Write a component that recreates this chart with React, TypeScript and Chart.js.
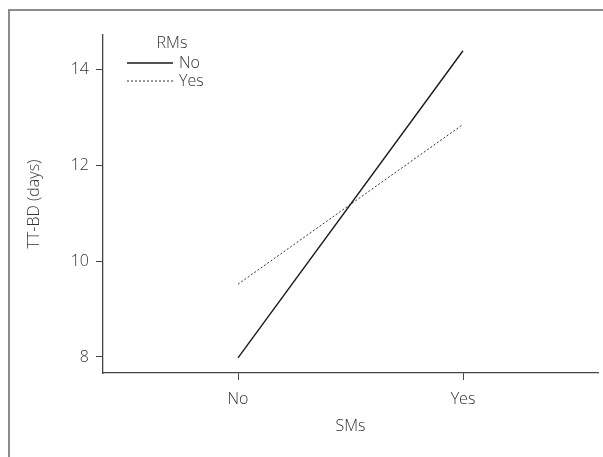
import React, { useEffect, useRef } from "react";
import { Chart, registerables } from "chart.js";

Chart.register(...registerables);

const smsCategories = ["No", "Yes"];
const rmsNoValues = [7.98, 14.4];
const rmsYesValues = [9.52, 12.86];
const yTickValues = [8, 10, 12, 14];
const legendTitle = "RMs";
const seriesLabels = ["No", "Yes"];

const FONT = "'Open Sans', 'DejaVu Sans', sans-serif";
const TEXT = "#333333";
const SIZE = 16;
const WEIGHT = "300";

const legendPlugin = {
  id: "customLegend",
  afterDraw(chart: any) {
    const { ctx, chartArea } = chart;
    const left = chartArea.left;
    const top = chartArea.top;
    ctx.save();
    ctx.font = `${WEIGHT} ${SIZE}px ${FONT}`;
    ctx.fillStyle = TEXT;
    ctx.textBaseline = "middle";
    ctx.textAlign = "center";
    ctx.fillText(legendTitle, left + 69, top + 8);
    chart.data.datasets.forEach((ds: any, i: number) => {
      const y = top + 28 + i * 18;
      ctx.beginPath();
      ctx.strokeStyle = ds.borderColor;
      ctx.lineWidth = ds.borderWidth;
      ctx.setLineDash(ds.borderDash || []);
      ctx.moveTo(left + 24, y);
      ctx.lineTo(left + 70, y);
      ctx.stroke();
      ctx.setLineDash([]);
      ctx.textAlign = "left";
      ctx.fillStyle = TEXT;
      ctx.fillText(ds.label, left + 76, y);
    });
    ctx.restore();
  },
};

export default function App() {
  const canvasRef = useRef<HTMLCanvasElement | null>(null);

  useEffect(() => {
    if (!canvasRef.current) return;
    const font = { family: FONT, size: SIZE, weight: WEIGHT };
    const chart = new Chart(canvasRef.current, {
      type: "line",
      data: {
        datasets: [
          {
            label: seriesLabels[0],
            data: rmsNoValues.map((v, i) => ({ x: i, y: v })),
            borderColor: "#1a1a1a",
            borderWidth: 1.4,
            pointRadius: 0,
            fill: false,
          },
          {
            label: seriesLabels[1],
            data: rmsYesValues.map((v, i) => ({ x: i, y: v })),
            borderColor: "#333333",
            borderWidth: 1,
            borderDash: [2, 2],
            pointRadius: 0,
            fill: false,
          },
        ],
      },
      options: {
        responsive: false,
        animation: false,
        layout: { padding: { top: 35, right: 5, left: 0, bottom: 0 } },
        plugins: { legend: { display: false }, tooltip: { enabled: false } },
        scales: {
          x: {
            type: "linear",
            min: -0.6,
            max: 1.6,
            afterBuildTicks: (scale: any) => {
              scale.ticks = smsCategories.map((_, i) => ({ value: i }));
            },
            afterFit: (scale: any) => {
              scale.height = 84;
            },
            ticks: {
              callback: (v: any) => smsCategories[v as number] ?? "",
              color: TEXT,
              font,
              padding: 10,
            },
            grid: {
              drawOnChartArea: false,
              drawTicks: true,
              tickLength: 7,
              color: "#444",
              lineWidth: 1,
            },
            border: { color: "#444", width: 1.3 },
            title: {
              display: true,
              text: "SMs",
              color: TEXT,
              font,
              padding: { top: 0, bottom: 21.4 },
            },
          },
          y: {
            type: "linear",
            min: 7.665,
            max: 14.73,
            afterBuildTicks: (scale: any) => {
              scale.ticks = yTickValues.map((v) => ({ value: v }));
            },
            afterFit: (scale: any) => {
              scale.width = 103;
            },
            ticks: {
              color: TEXT,
              font,
              padding: 7,
            },
            grid: {
              drawOnChartArea: false,
              drawTicks: true,
              tickLength: 7,
              color: "#444",
              lineWidth: 1,
            },
            border: { color: "#444", width: 1.3 },
            title: {
              display: true,
              text: "TT-BD (days)",
              color: TEXT,
              font,
              padding: { top: 24.4, bottom: 0 },
            },
          },
        },
      },
      plugins: [legendPlugin],
    });
    return () => chart.destroy();
  }, []);

  return (
    <>
      <div
        style={{
          position: "fixed",
          left: 8,
          top: 9,
          width: 640,
          height: 500,
          borderLeft: "2px solid #8c8c8c",
          borderTop: "2px solid #8c8c8c",
          boxSizing: "border-box",
        }}
      />
      <canvas
        ref={canvasRef}
        width={603}
        height={457}
        style={{ position: "fixed", left: 0, top: 0, width: 603, height: 457 }}
      />
    </>
  );
}
